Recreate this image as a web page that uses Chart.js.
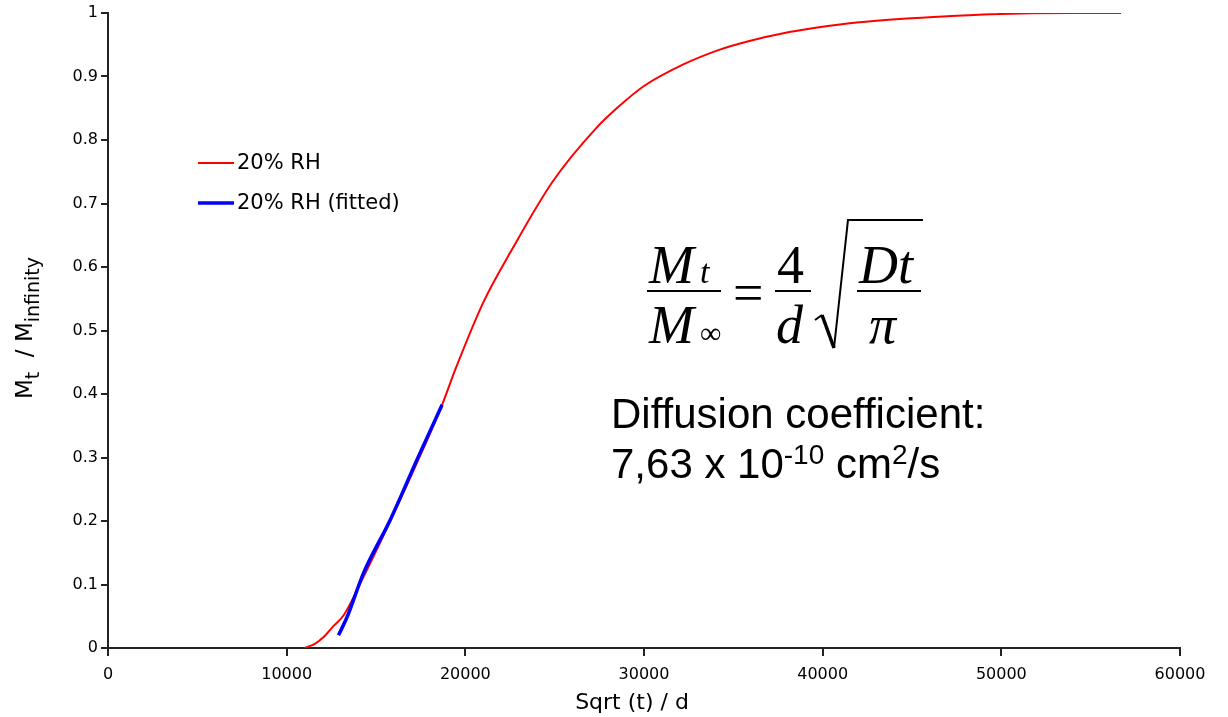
<!DOCTYPE html>
<html>
<head>
<meta charset="utf-8">
<script src="https://cdn.jsdelivr.net/npm/chart.js@4.4.1/dist/chart.umd.min.js"></script>
<style>
  html, body { margin: 0; padding: 0; background: #ffffff; }
  #c { display: block; }
</style>
</head>
<body>
<canvas id="c" width="1228" height="717"></canvas>
<script>
// ---- data ----
const seriesLabels = ['20% RH', '20% RH (fitted)'];
const redX = [11000, 11600, 12100, 12600, 13200, 14300, 15800, 17300, 18700, 19500, 21000, 22600, 24900, 27300, 28600, 30000, 32200, 34200, 35900, 37800, 39700, 41900, 44500, 47000, 49400, 53800, 56700];
const redY = [0, 0.007, 0.018, 0.034, 0.052, 0.112, 0.200, 0.292, 0.383, 0.443, 0.544, 0.627, 0.735, 0.818, 0.853, 0.885, 0.919, 0.942, 0.956, 0.968, 0.977, 0.985, 0.991, 0.995, 0.998, 1.0, 1.0];
const blueX = [12900, 13400, 14300, 15800, 17300, 18700];
const blueY = [0.020, 0.050, 0.118, 0.202, 0.297, 0.383];
const xTickValues = [0, 10000, 20000, 30000, 40000, 50000, 60000];
const yTickValues = [0, 0.1, 0.2, 0.3, 0.4, 0.5, 0.6, 0.7, 0.8, 0.9, 1];
const yTickLabels = ['0', '0.1', '0.2', '0.3', '0.4', '0.5', '0.6', '0.7', '0.8', '0.9', '1'];
const xTitle = 'Sqrt (t) / d';
const yTitleParts = [['M', false], ['t', true], ['  / M', false], ['infinity', true]];
const noteLine1 = 'Diffusion coefficient:';
const noteLine2 = [['7,63 x 10', false], ['-10', true], [' cm', false], ['2', true], ['/s', false]];

const toPts = (xs, ys) => xs.map((x, i) => ({ x: x, y: ys[i] }));

const SANS = '"DejaVu Sans", sans-serif';
const SERIF = '"Liberation Serif", "DejaVu Serif", serif';
const ARIAL = '"Liberation Sans", Arial, sans-serif';

const overlay = {
  id: 'overlay',
  afterDraw(chart) {
    const ctx = chart.ctx;
    const ds = chart.data.datasets;
    ctx.save();
    // legend
    const leg = [{ y: 163, ds: ds[0] }, { y: 203, ds: ds[1] }];
    leg.forEach(l => {
      ctx.strokeStyle = l.ds.borderColor;
      ctx.lineWidth = l.ds.borderWidth;
      ctx.beginPath();
      ctx.moveTo(198, l.y);
      ctx.lineTo(234, l.y);
      ctx.stroke();
      ctx.fillStyle = '#000';
      ctx.font = '21px ' + SANS;
      ctx.textBaseline = 'middle';
      ctx.textAlign = 'left';
      ctx.fillText(l.ds.label, 237, l.y + 1);
    });

    // y axis title (rotated, with subscripts)
    ctx.save();
    ctx.translate(32, 328);
    ctx.rotate(-Math.PI / 2);
    ctx.fillStyle = '#000';
    ctx.textBaseline = 'alphabetic';
    const mainF = '23px ' + SANS, subF = '19px ' + SANS;
    let total = 0;
    yTitleParts.forEach(p => { ctx.font = p[1] ? subF : mainF; total += ctx.measureText(p[0]).width; });
    let cx = -total / 2;
    yTitleParts.forEach(p => {
      ctx.font = p[1] ? subF : mainF;
      ctx.textAlign = 'left';
      ctx.fillText(p[0], cx, p[1] ? 7 : 0);
      cx += ctx.measureText(p[0]).width;
    });
    ctx.restore();

    // x axis title
    ctx.fillStyle = '#000';
    ctx.font = '22px ' + SANS;
    ctx.textAlign = 'center';
    ctx.textBaseline = 'middle';
    ctx.fillText(xTitle, 632, 703);

    // equation
    ctx.textAlign = 'left';
    ctx.textBaseline = 'alphabetic';
    const it = 'italic 54px ' + SERIF;
    const rg = '54px ' + SERIF;
    ctx.font = it; ctx.fillText('M', 649, 283);
    ctx.font = 'italic 34px ' + SERIF; ctx.fillText('t', 700, 283);
    ctx.font = it; ctx.fillText('M', 649, 343);
    ctx.font = '30px ' + SERIF; ctx.fillText('\u221E', 700, 343);
    ctx.font = rg; ctx.fillText('=', 733, 311);
    ctx.font = rg; ctx.fillText('4', 777, 283);
    ctx.font = it; ctx.fillText('d', 776, 343);
    ctx.font = it; ctx.fillText('Dt', 859, 283);
    ctx.font = it; ctx.fillText('\u03C0', 869, 343);
    ctx.strokeStyle = '#000';
    ctx.lineWidth = 2;
    [[647, 721], [775, 811], [857, 921]].forEach(b => {
      ctx.beginPath(); ctx.moveTo(b[0], 291); ctx.lineTo(b[1], 291); ctx.stroke();
    });
    ctx.beginPath();
    ctx.moveTo(815, 320); ctx.lineTo(822, 315);
    ctx.stroke();
    ctx.lineWidth = 3.5;
    ctx.beginPath(); ctx.moveTo(822, 315); ctx.lineTo(834, 348); ctx.stroke();
    ctx.lineWidth = 2;
    ctx.beginPath(); ctx.moveTo(834, 348); ctx.lineTo(848, 220); ctx.lineTo(923, 220); ctx.stroke();

    // note text
    ctx.font = '42px ' + ARIAL;
    ctx.fillText(noteLine1, 611, 428);
    let nx = 611;
    noteLine2.forEach(p => {
      ctx.font = p[1] ? '28px ' + ARIAL : '42px ' + ARIAL;
      ctx.fillText(p[0], nx, p[1] ? 464 : 478);
      nx += ctx.measureText(p[0]).width;
    });
    ctx.restore();
  }
};

new Chart(document.getElementById('c'), {
  type: 'line',
  data: {
    datasets: [
      { label: seriesLabels[0], data: toPts(redX, redY), borderColor: '#ff0000', borderWidth: 2, pointRadius: 0, cubicInterpolationMode: 'monotone', order: 2 },
      { label: seriesLabels[1], data: toPts(blueX, blueY), borderColor: '#0000ff', borderWidth: 3.5, pointRadius: 0, cubicInterpolationMode: 'monotone', order: 1 }
    ]
  },
  options: {
    responsive: false,
    devicePixelRatio: 1,
    animation: false,
    layout: { padding: { top: 13, right: 48, left: 0, bottom: 0 } },
    plugins: { legend: { display: false }, tooltip: { enabled: false } },
    scales: {
      x: {
        type: 'linear', min: 0, max: 60000,
        afterBuildTicks: s => { s.ticks = xTickValues.map(v => ({ value: v })); },
        afterFit: s => { s.height = 69; },
        ticks: { color: '#000', font: { family: SANS, size: 16 }, padding: 9, maxRotation: 0, autoSkip: false, callback: v => String(v) },
        grid: { display: true, drawOnChartArea: false, drawTicks: true, tickLength: 8, color: '#222', lineWidth: 2 },
        border: { display: true, color: '#222', width: 2 }
      },
      y: {
        type: 'linear', min: 0, max: 1,
        afterBuildTicks: s => { s.ticks = yTickValues.map(v => ({ value: v })); },
        afterFit: s => { s.width = 108; },
        ticks: { color: '#000', font: { family: SANS, size: 16 }, padding: 3, autoSkip: false,
          callback: (v, i) => yTickLabels[i] },
        grid: { display: true, drawOnChartArea: false, drawTicks: true, tickLength: 7, color: '#222', lineWidth: 2 },
        border: { display: true, color: '#222', width: 2 }
      }
    }
  },
  plugins: [overlay]
});
</script>
</body>
</html>
